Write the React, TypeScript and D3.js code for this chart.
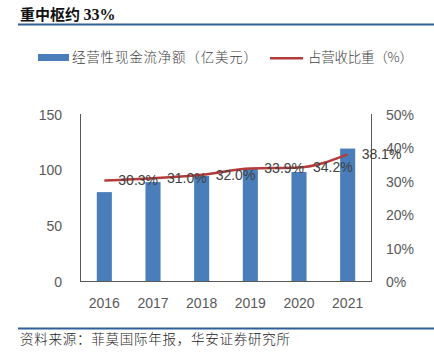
import React from 'react';
import * as d3 from 'd3';

const years = ['2016', '2017', '2018', '2019', '2020', '2021'];
const cashFlow = [80.5, 89.5, 95, 101.5, 98.5, 119.5];
const shareOfRevenue = [30.3, 31.0, 32.0, 33.9, 34.2, 38.1];
const leftTicks = [0, 50, 100, 150];
const rightTicks = [0, 10, 20, 30, 40, 50];

const W = 434;
const H = 359;
const cjk = '"Noto Sans CJK SC", sans-serif';
const latin = '"Liberation Sans", Arial, sans-serif';

const App: React.FC = () => {
    const x = d3.scaleBand<string>().domain(years).range([80, 372]).paddingInner(0.69).paddingOuter(0.345);
    const yL = d3.scaleLinear().domain([0, 150]).range([282, 114.5]);
    const yR = d3.scaleLinear().domain([0, 50]).range([282, 114.5]);
    const cx = (d: string) => (x(d) ?? 0) + x.bandwidth() / 2;

    const line = d3.line<number>()
        .x((_, i) => cx(years[i]))
        .y(d => yR(d))
        .curve(d3.curveMonotoneX);

    return (
        <svg width={W} height={H} style={{ position: 'absolute', left: 0, top: 0 }}>
            <rect width={W} height={H} fill="#fff" />
            {/* header */}
            <text x={20} y={20} fontFamily={cjk} fontWeight="bold" fontSize={15} fill="#111">
                重中枢约 <tspan fontFamily='"Liberation Serif", serif' fontWeight="bold" fontSize={16}>33%</tspan>
            </text>
            <line x1={18} x2={W} y1={24.5} y2={24.5} stroke="#2F5F98" strokeWidth={2} />

            {/* legend */}
            <rect x={38} y={54} width={31} height={7} fill="#4A7EBB" />
            <text x={72} y={62} fontFamily={cjk} fontSize={13.5} fill="#404040" fontWeight={300}
                textLength={185} lengthAdjust="spacing">
                经营性现金流净额（亿美元）
            </text>
            <line x1={270} x2={303} y1={58.3} y2={58.3} stroke="#B43B3A" strokeWidth={2.5} />
            <text x={308} y={62} fontFamily={cjk} fontSize={13.5} fill="#404040" fontWeight={300}
                textLength={105} lengthAdjust="spacing">
                占营收比重（%）
            </text>

            {/* bars */}
            {cashFlow.map((v, i) => (
                <rect key={years[i]} x={x(years[i])} y={yL(v)} width={x.bandwidth()} height={yL(0) - yL(v)} fill="#4A7EBB" />
            ))}

            {/* axes */}
            <line x1={80.5} x2={80.5} y1={114} y2={282} stroke="#595959" />
            <line x1={371.5} x2={371.5} y1={114} y2={282} stroke="#595959" />
            <line x1={80} x2={372} y1={281.5} y2={281.5} stroke="#595959" />

            {leftTicks.map(t => (
                <text key={t} x={62} y={yL(t) + 5} textAnchor="end" fontFamily={latin} fontSize={14} fill="#595959">{t}</text>
            ))}
            {rightTicks.map(t => (
                <text key={t} x={386} y={yR(t) + 5} fontFamily={latin} fontSize={14} fill="#595959">{t}%</text>
            ))}
            {years.map(y => (
                <text key={y} x={cx(y)} y={308} textAnchor="middle" fontFamily={latin} fontSize={14} fill="#595959">{y}</text>
            ))}

            {/* line */}
            <path d={line(shareOfRevenue) ?? ''} fill="none" stroke="#B43B3A" strokeWidth={2.5} />
            {shareOfRevenue.map((v, i) => (
                <text key={i} x={cx(years[i]) + 14} y={yR(v) + 5} fontFamily={latin} fontSize={14} fill="#404040">
                    {v.toFixed(1)}%
                </text>
            ))}

            {/* footer */}
            <line x1={18} x2={W} y1={328.5} y2={328.5} stroke="#2F5F98" strokeWidth={2} />
            <text x={20} y={344} fontFamily={cjk} fontSize={13.5} fill="#222" fontWeight={300}
                textLength={270} lengthAdjust="spacing">
                资料来源：菲莫国际年报，华安证券研究所
            </text>
        </svg>
    );
};

export default App;
